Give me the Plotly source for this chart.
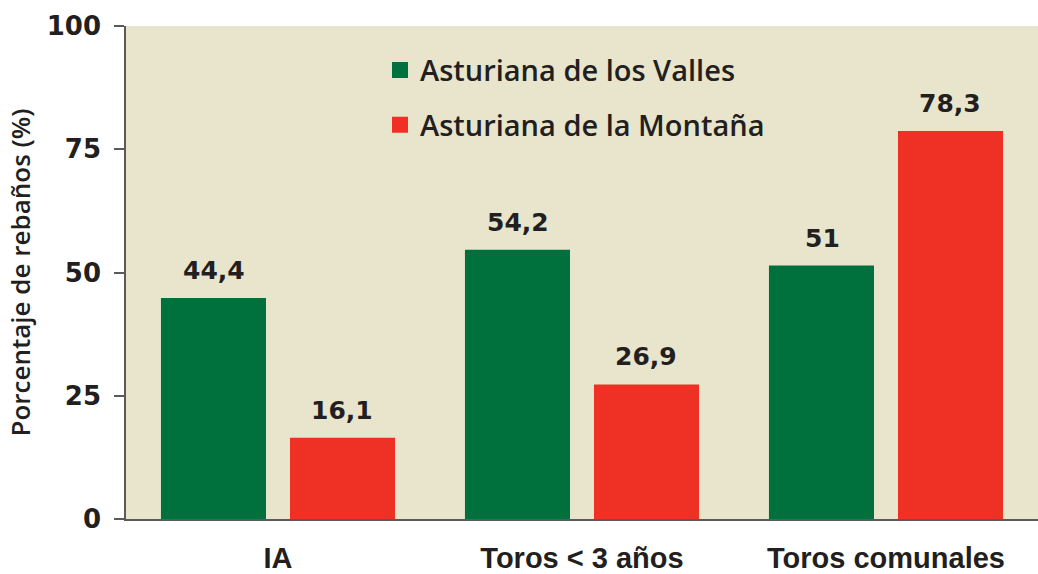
import plotly.graph_objects as go

categories = ["IA", "Toros < 3 años", "Toros comunales"]
valles = [44.4, 54.2, 51]
montana = [16.1, 26.9, 78.3]
valles_labels = ["44,4", "54,2", "51"]
montana_labels = ["16,1", "26,9", "78,3"]
series_names = ["Asturiana de los Valles", "Asturiana de la Montaña"]
y_ticks = [0, 25, 50, 75, 100]

GREEN = "#00703c"
RED = "#ee3124"
BEIGE = "#e8e5cc"
TEXT = "#231f20"

fig = go.Figure()
fig.add_trace(go.Bar(x=categories, y=valles, name=series_names[0],
                     marker=dict(color=GREEN, line=dict(width=4, color=GREEN)),
                     legendgroup="a"))
fig.add_trace(go.Bar(x=categories, y=montana, name=series_names[1],
                     marker=dict(color=RED, line=dict(width=4, color=RED)),
                     legendgroup="b"))

for vals, labs, shift in [(valles, valles_labels, -64), (montana, montana_labels, 64)]:
    for c, v, t in zip(categories, vals, labs):
        fig.add_annotation(x=c, y=v, text=t, showarrow=False, xshift=shift,
                           yanchor="bottom", yshift=13,
                           font=dict(family="DejaVu Sans", size=25, color=TEXT, weight="bold"))

fig.update_layout(
    width=1038, height=574,
    margin=dict(l=126, r=0, t=26, b=55, autoexpand=False),
    paper_bgcolor="white", plot_bgcolor=BEIGE,
    barmode="group", bargap=0.151, bargroupgap=0.217,
    showlegend=True,
    legend=dict(x=0.2785, y=0.962, xanchor="left", yanchor="top",
                bgcolor="rgba(0,0,0,0)", tracegroupgap=14,
                font=dict(family="Open Sans", size=29, color=TEXT, weight=600)),
    font=dict(color=TEXT),
)
fig.update_yaxes(range=[0, 100], tickvals=y_ticks, showgrid=False, zeroline=False,
                 automargin=False,
                 showline=True, linecolor="#5a5a5a", linewidth=1.5,
                 ticks="outside", ticklen=10, tickcolor="#5a5a5a", tickwidth=1.5,
                 ticklabelstandoff=8,
                 tickfont=dict(family="DejaVu Sans", size=26, color=TEXT, weight="bold"),
                 title=dict(text="Porcentaje de rebaños (%)", standoff=9,
                            font=dict(family="Open Sans", size=26, color=TEXT, weight=600)))
fig.update_xaxes(showgrid=False, showline=True, linecolor="#5a5a5a", linewidth=1.5,
                 automargin=False,
                 ticks="", ticklabelstandoff=12,
                 tickfont=dict(family="Liberation Sans", size=29, color=TEXT, weight="bold"))

fig.write_html("out.html", config={"displayModeBar": False},
               post_script="document.body.style.margin='0';document.body.style.overflow='hidden';")
